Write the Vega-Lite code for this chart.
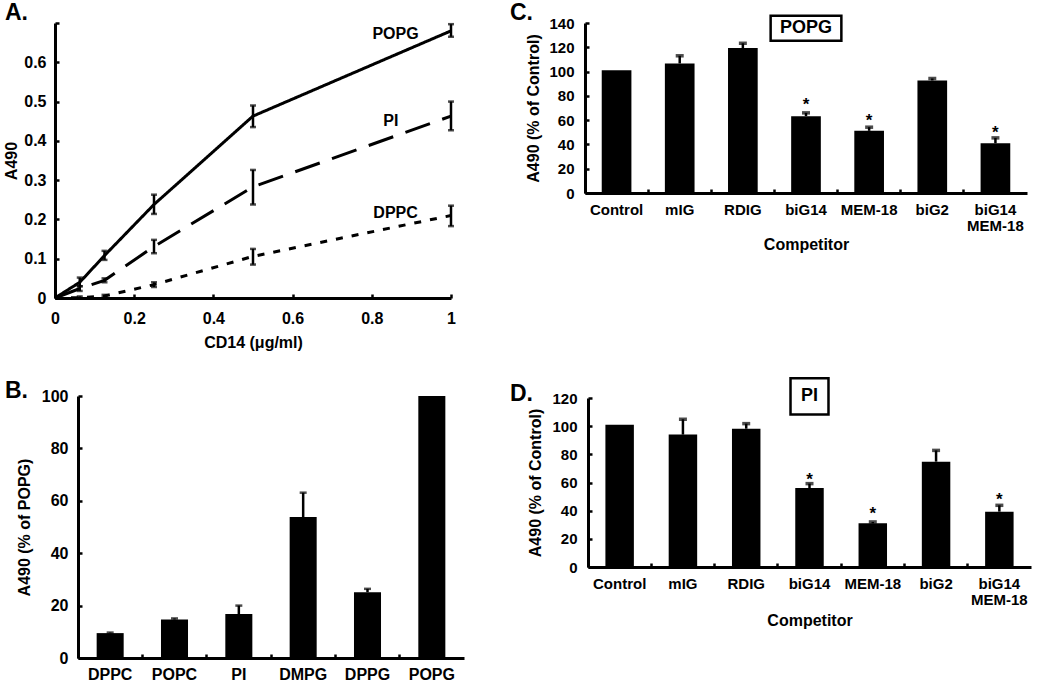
{
  "$schema": "https://vega.github.io/schema/vega-lite/v6.json",
  "background": "white",
  "padding": {"left": 3, "top": 2, "right": 5, "bottom": 0},
  "config": {
    "font": "Liberation Sans",
    "view": {"stroke": null},
    "axis": {
      "grid": false, "domainColor": "black", "domainWidth": 3, "tickColor": "black", "tickWidth": 2.5, "tickSize": -4,
      "labelColor": "black", "labelFont": "Liberation Sans", "labelFontSize": 15, "labelFontWeight": "bold",
      "titleColor": "black", "titleFont": "Liberation Sans", "titleFontSize": 16, "titleFontWeight": "bold",
      "labelAngle": 0, "labelOverlap": false, "labelFlush": false, "tickCount": 20
    },
    "title": {"font": "Liberation Sans", "fontSize": 23, "fontWeight": "bold", "color": "black", "anchor": "start", "frame": "group", "baseline": "alphabetic"}
  },
  "spacing": 46,
  "hconcat": [
    {
      "spacing": 30,
      "vconcat": [
        {
          "width": 396, "height": 275,
          "title": {"text": "A.", "dx": -50, "offset": -10},
          "data": {"values": [
            {"s": "POPG", "c": 0, "v": 0, "lo": null, "hi": null},
            {"s": "POPG", "c": 0.0625, "v": 0.04, "lo": 0.03, "hi": 0.052},
            {"s": "POPG", "c": 0.125, "v": 0.108, "lo": 0.097, "hi": 0.12},
            {"s": "POPG", "c": 0.25, "v": 0.238, "lo": 0.214, "hi": 0.263},
            {"s": "POPG", "c": 0.5, "v": 0.463, "lo": 0.435, "hi": 0.49},
            {"s": "POPG", "c": 1, "v": 0.68, "lo": 0.665, "hi": 0.697},
            {"s": "PI", "c": 0, "v": 0, "lo": null, "hi": null},
            {"s": "PI", "c": 0.0625, "v": 0.024, "lo": 0.018, "hi": 0.03},
            {"s": "PI", "c": 0.125, "v": 0.045, "lo": 0.04, "hi": 0.05},
            {"s": "PI", "c": 0.25, "v": 0.131, "lo": 0.114, "hi": 0.148},
            {"s": "PI", "c": 0.5, "v": 0.283, "lo": 0.238, "hi": 0.326},
            {"s": "PI", "c": 1, "v": 0.463, "lo": 0.427, "hi": 0.5},
            {"s": "DPPC", "c": 0, "v": 0, "lo": null, "hi": null},
            {"s": "DPPC", "c": 0.0625, "v": 0.001, "lo": 0, "hi": 0.004},
            {"s": "DPPC", "c": 0.125, "v": 0.005, "lo": 0.002, "hi": 0.008},
            {"s": "DPPC", "c": 0.25, "v": 0.034, "lo": 0.028, "hi": 0.04},
            {"s": "DPPC", "c": 0.5, "v": 0.106, "lo": 0.085, "hi": 0.125},
            {"s": "DPPC", "c": 1, "v": 0.21, "lo": 0.183, "hi": 0.235}
          ]},
          "layer": [
            {
              "mark": {"type": "line", "color": "black", "strokeWidth": 3},
              "encoding": {
                "x": {"field": "c", "type": "quantitative", "scale": {"domain": [0, 1], "nice": false},
                      "axis": {"title": "CD14 (μg/ml)", "values": [0, 0.2, 0.4, 0.6, 0.8, 1], "format": "~g", "labelFontSize": 16, "labelPadding": 16, "titlePadding": 8}},
                "y": {"field": "v", "type": "quantitative", "scale": {"domain": [0, 0.7], "nice": false},
                      "axis": {"title": "A490", "values": [0, 0.1, 0.2, 0.3, 0.4, 0.5, 0.6, 0.7], "format": "~g", "labelExpr": "datum.value > 0.65 ? '' : datum.label", "labelFontSize": 16, "labelPadding": 13, "titlePadding": 4}},
                "strokeDash": {"field": "s", "type": "nominal", "scale": {"domain": ["POPG", "PI", "DPPC"], "range": [[1, 0], [26, 13], [7, 9]]}, "legend": null}
              }
            },
            {
              "transform": [{"filter": "isValid(datum.lo)"}],
              "mark": {"type": "rule", "color": "black", "strokeWidth": 2.5},
              "encoding": {
                "x": {"field": "c", "type": "quantitative"},
                "y": {"field": "lo", "type": "quantitative", "title": "A490"},
                "y2": {"field": "hi"}
              }
            },
            {
              "transform": [{"filter": "isValid(datum.lo)"}],
              "mark": {"type": "tick", "orient": "horizontal", "color": "black", "size": 6, "thickness": 2.5},
              "encoding": {
                "x": {"field": "c", "type": "quantitative"},
                "y": {"field": "lo", "type": "quantitative", "title": "A490"}
              }
            },
            {
              "transform": [{"filter": "isValid(datum.hi)"}],
              "mark": {"type": "tick", "orient": "horizontal", "color": "black", "size": 6, "thickness": 2.5},
              "encoding": {
                "x": {"field": "c", "type": "quantitative"},
                "y": {"field": "hi", "type": "quantitative", "title": "A490"}
              }
            },
            {
              "data": {"values": [
                {"s": "POPG", "lx": 0.86, "ly": 0.672},
                {"s": "PI", "lx": 0.848, "ly": 0.45},
                {"s": "DPPC", "lx": 0.86, "ly": 0.217}
              ]},
              "mark": {"type": "text", "fontSize": 16, "fontWeight": "bold", "color": "black", "baseline": "middle", "align": "center"},
              "encoding": {
                "x": {"field": "lx", "type": "quantitative"},
                "y": {"field": "ly", "type": "quantitative", "title": "A490"},
                "text": {"field": "s"}
              }
            }
          ]
        },
        {
          "width": 409, "height": 262,
          "title": {"text": "B.", "dx": -50, "offset": -15},
          "data": {"values": [
            {"lipid": "DPPC", "pct": 9.5, "hi": 9.7},
            {"lipid": "POPC", "pct": 14.7, "hi": 15.1},
            {"lipid": "PI", "pct": 16.8, "hi": 20},
            {"lipid": "DMPG", "pct": 53.8, "hi": 63.1},
            {"lipid": "DPPG", "pct": 25.1, "hi": 26.4},
            {"lipid": "POPG", "pct": 100, "hi": null}
          ]},
          "encoding": {
            "x": {"field": "lipid", "type": "nominal", "sort": null,
                  "scale": {"range": [23, 409], "paddingInner": 0, "paddingOuter": 0},
                  "axis": {"title": null, "bandPosition": 0, "labelFontSize": 16, "labelPadding": 12}}
          },
          "layer": [
            {
              "mark": {"type": "bar", "color": "black", "width": {"band": 0.42}},
              "encoding": {
                "y": {"field": "pct", "type": "quantitative", "scale": {"domain": [0, 100], "nice": false},
                      "axis": {"title": "A490 (% of POPG)", "values": [0, 20, 40, 60, 80, 100], "offset": -23, "labelFontSize": 16, "labelPadding": 14, "titlePadding": 9}}
              }
            },
            {
              "transform": [{"filter": "isValid(datum.hi)"}],
              "mark": {"type": "rule", "color": "black", "strokeWidth": 2.5},
              "encoding": {
                "y": {"field": "pct", "type": "quantitative", "title": "A490 (% of POPG)"},
                "y2": {"field": "hi"}
              }
            },
            {
              "transform": [{"filter": "isValid(datum.hi)"}],
              "mark": {"type": "tick", "orient": "horizontal", "color": "black", "size": 7, "thickness": 2.5},
              "encoding": {
                "y": {"field": "hi", "type": "quantitative", "title": "A490 (% of POPG)"}
              }
            }
          ]
        }
      ]
    },
    {
      "spacing": 125,
      "vconcat": [
        {
          "width": 442, "height": 170,
          "title": {"text": "C.", "dx": -75, "offset": -11},
          "data": {"values": [
            {"comp": "Control", "v": 101, "hi": null, "star": null},
            {"comp": "mIG", "v": 106.7, "hi": 113, "star": null},
            {"comp": "RDIG", "v": 119.4, "hi": 123.3, "star": null},
            {"comp": "biG14", "v": 63.3, "hi": 66, "star": 68},
            {"comp": "MEM-18", "v": 51.2, "hi": 54.2, "star": 55.5},
            {"comp": "biG2", "v": 92.7, "hi": 94.3, "star": null},
            {"comp": "biG14 MEM-18", "v": 41, "hi": 45.4, "star": 45}
          ]},
          "encoding": {
            "x": {"field": "comp", "type": "nominal", "sort": null,
                  "scale": {"domain": ["Control", "mIG", "RDIG", "biG14", "MEM-18", "biG2", "biG14 MEM-18"], "paddingInner": 0, "paddingOuter": 0},
                  "axis": {"title": "Competitor", "bandPosition": 0, "labelExpr": "split(datum.value, ' ')", "labelLineHeight": 16, "labelPadding": 13, "titlePadding": 3}}
          },
          "layer": [
            {
              "mark": {"type": "bar", "color": "black", "width": {"band": 0.47}},
              "encoding": {
                "y": {"field": "v", "type": "quantitative", "scale": {"domain": [0, 140], "nice": false},
                      "axis": {"title": "A490 (% of Control)", "values": [0, 20, 40, 60, 80, 100, 120, 140], "labelPadding": 15, "titlePadding": 7}}
              }
            },
            {
              "transform": [{"filter": "isValid(datum.hi)"}],
              "mark": {"type": "rule", "color": "black", "strokeWidth": 2.5},
              "encoding": {
                "y": {"field": "v", "type": "quantitative", "title": "A490 (% of Control)"},
                "y2": {"field": "hi"}
              }
            },
            {
              "transform": [{"filter": "isValid(datum.hi)"}],
              "mark": {"type": "tick", "orient": "horizontal", "color": "black", "size": 8, "thickness": 3.5},
              "encoding": {
                "y": {"field": "hi", "type": "quantitative", "title": "A490 (% of Control)"}
              }
            },
            {
              "transform": [{"filter": "isValid(datum.star)"}],
              "mark": {"type": "text", "text": "*", "fontSize": 17, "fontWeight": "bold", "color": "black", "baseline": "alphabetic"},
              "encoding": {
                "y": {"field": "star", "type": "quantitative", "title": "A490 (% of Control)"}
              }
            },
            {
              "data": {"values": [{"comp": "biG14", "y1": 125.4, "y2": 146, "label": "POPG", "ly": 135.7}]},
              "layer": [
                {
                  "mark": {"type": "bar", "filled": false, "color": "black", "strokeWidth": 2.5, "width": {"band": 1.12}},
                  "encoding": {
                    "y": {"field": "y1", "type": "quantitative", "title": "A490 (% of Control)"},
                    "y2": {"field": "y2"}
                  }
                },
                {
                  "mark": {"type": "text", "fontSize": 18, "fontWeight": "bold", "color": "black", "baseline": "middle"},
                  "encoding": {
                    "y": {"field": "ly", "type": "quantitative", "title": "A490 (% of Control)"},
                    "text": {"field": "label"}
                  }
                }
              ]
            }
          ]
        },
        {
          "width": 446, "height": 169,
          "title": {"text": "D.", "dx": -75, "offset": -29},
          "data": {"values": [
            {"comp": "Control", "v": 101, "hi": null, "star": null},
            {"comp": "mIG", "v": 94, "hi": 104.9, "star": null},
            {"comp": "RDIG", "v": 98.2, "hi": 101.8, "star": null},
            {"comp": "biG14", "v": 56.1, "hi": 59.2, "star": 58},
            {"comp": "MEM-18", "v": 31, "hi": 32, "star": 34},
            {"comp": "biG2", "v": 74.8, "hi": 82.8, "star": null},
            {"comp": "biG14 MEM-18", "v": 39.3, "hi": 43.8, "star": 44}
          ]},
          "encoding": {
            "x": {"field": "comp", "type": "nominal", "sort": null,
                  "scale": {"domain": ["Control", "mIG", "RDIG", "biG14", "MEM-18", "biG2", "biG14 MEM-18"], "range": [3, 446], "paddingInner": 0, "paddingOuter": 0},
                  "axis": {"title": "Competitor", "bandPosition": 0, "labelExpr": "split(datum.value, ' ')", "labelLineHeight": 16, "labelPadding": 13, "titlePadding": 5}}
          },
          "layer": [
            {
              "mark": {"type": "bar", "color": "black", "width": {"band": 0.45}},
              "encoding": {
                "y": {"field": "v", "type": "quantitative", "scale": {"domain": [0, 120], "nice": false},
                      "axis": {"title": "A490 (% of Control)", "values": [0, 20, 40, 60, 80, 100, 120], "offset": -3, "labelPadding": 15, "titlePadding": 8}}
              }
            },
            {
              "transform": [{"filter": "isValid(datum.hi)"}],
              "mark": {"type": "rule", "color": "black", "strokeWidth": 2.5},
              "encoding": {
                "y": {"field": "v", "type": "quantitative", "title": "A490 (% of Control)"},
                "y2": {"field": "hi"}
              }
            },
            {
              "transform": [{"filter": "isValid(datum.hi)"}],
              "mark": {"type": "tick", "orient": "horizontal", "color": "black", "size": 8, "thickness": 3.5},
              "encoding": {
                "y": {"field": "hi", "type": "quantitative", "title": "A490 (% of Control)"}
              }
            },
            {
              "transform": [{"filter": "isValid(datum.star)"}],
              "mark": {"type": "text", "text": "*", "fontSize": 17, "fontWeight": "bold", "color": "black", "baseline": "alphabetic"},
              "encoding": {
                "y": {"field": "star", "type": "quantitative", "title": "A490 (% of Control)"}
              }
            },
            {
              "data": {"values": [{"comp": "biG14", "y1": 108.3, "y2": 134, "label": "PI", "ly": 121.2}]},
              "layer": [
                {
                  "mark": {"type": "bar", "filled": false, "color": "black", "strokeWidth": 2.5, "width": {"band": 0.6}},
                  "encoding": {
                    "y": {"field": "y1", "type": "quantitative", "title": "A490 (% of Control)"},
                    "y2": {"field": "y2"}
                  }
                },
                {
                  "mark": {"type": "text", "fontSize": 18, "fontWeight": "bold", "color": "black", "baseline": "middle"},
                  "encoding": {
                    "y": {"field": "ly", "type": "quantitative", "title": "A490 (% of Control)"},
                    "text": {"field": "label"}
                  }
                }
              ]
            }
          ]
        }
      ]
    }
  ]
}
